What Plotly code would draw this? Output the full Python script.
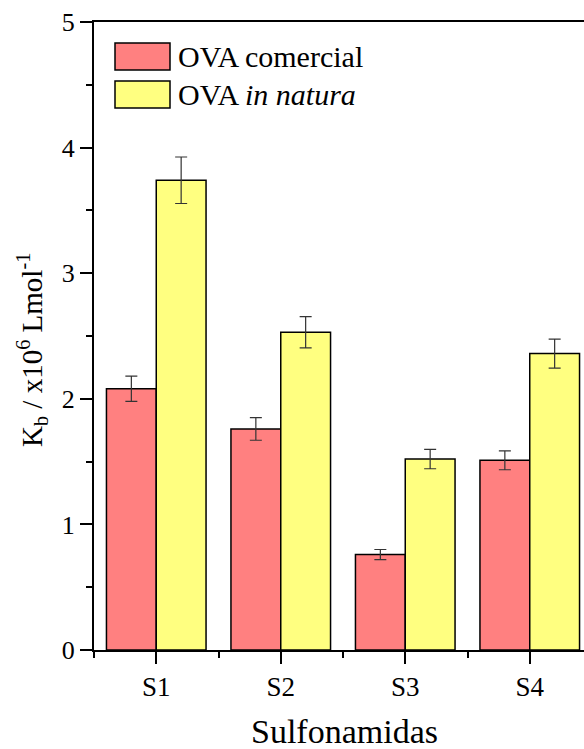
import plotly.graph_objects as go

# Binding constants (Kb, x10^6 L/mol) for each sulfonamide
categories = ["S1", "S2", "S3", "S4"]
x_pos = [1, 2, 3, 4]
kb_comercial = [2.08, 1.76, 0.76, 1.51]
err_comercial = [0.10, 0.09, 0.04, 0.075]
kb_natura = [3.74, 2.53, 1.52, 2.36]
err_natura = [0.185, 0.125, 0.077, 0.115]

FONT = "Liberation Serif"
RED = "#FF8080"
YELLOW = "#FFFF80"

fig = go.Figure()
fig.add_trace(go.Bar(
    x=x_pos, y=kb_comercial, name="OVA comercial",
    marker=dict(color=RED, line=dict(color="black", width=1.5)),
    error_y=dict(type="data", array=err_comercial, visible=True,
                 color="#333333", thickness=1.2, width=6),
))
fig.add_trace(go.Bar(
    x=x_pos, y=kb_natura, name="OVA <i>in natura</i>",
    marker=dict(color=YELLOW, line=dict(color="black", width=1.5)),
    error_y=dict(type="data", array=err_natura, visible=True,
                 color="#333333", thickness=1.2, width=6),
))

W, H = 584, 749
L, R, T, B = 94, 0, 22, 99
pw, ph = W - L - R, H - T - B


def px_x(x):
    return (x - L) / pw


def px_y(y):
    return 1 - (y - T) / ph


# Legend drawn as boxes + labels in the upper-left corner
legend_items = [("OVA comercial", RED), ("OVA <i>in natura</i>", YELLOW)]
for i, (label, color) in enumerate(legend_items):
    y0 = 43 + i * 38
    fig.add_shape(type="rect", xref="paper", yref="paper",
                  x0=px_x(115), x1=px_x(170), y0=px_y(y0 + 27), y1=px_y(y0),
                  fillcolor=color, line=dict(color="black", width=1.5))
    fig.add_annotation(xref="paper", yref="paper",
                       x=px_x(176), y=px_y(y0 + 13.5),
                       text=label, showarrow=False, xanchor="left", yanchor="middle",
                       font=dict(family=FONT, size=30, color="black"))

# Axis titles
fig.add_annotation(xref="paper", yref="paper", x=px_x(32), y=px_y(350),
                   text="K<sub>b</sub> / x10<sup>6</sup> Lmol<sup>-1</sup>",
                   textangle=-90, showarrow=False, xanchor="center", yanchor="middle",
                   font=dict(family=FONT, size=29, color="black"))
fig.add_annotation(xref="paper", yref="paper", x=px_x(344), y=px_y(731),
                   text="Sulfonamidas", showarrow=False,
                   xanchor="center", yanchor="middle",
                   font=dict(family=FONT, size=34, color="black"))

fig.update_layout(
    width=W, height=H,
    margin=dict(l=L, r=R, t=T, b=B),
    plot_bgcolor="white", paper_bgcolor="white",
    barmode="group", bargap=0.2, bargroupgap=0,
    showlegend=False,
    font=dict(family=FONT, color="black"),
    xaxis=dict(
        range=[0.5, 0.5 + pw / 124.5],
        tickmode="array", tickvals=x_pos, ticktext=categories,
        ticks="outside", ticklen=12, tickwidth=2, tickcolor="black",
        minor=dict(tickmode="array", tickvals=[0.5, 1.5, 2.5, 3.5],
                   ticks="outside", ticklen=6, tickwidth=2, tickcolor="black"),
        showline=True, linecolor="black", linewidth=2, mirror=True,
        showgrid=False, zeroline=False,
        tickfont=dict(family=FONT, size=27),
    ),
    yaxis=dict(
        range=[0, 5],
        tickmode="array", tickvals=[0, 1, 2, 3, 4, 5],
        ticks="outside", ticklen=12, tickwidth=2, tickcolor="black",
        minor=dict(tickmode="array", tickvals=[0.5, 1.5, 2.5, 3.5, 4.5],
                   ticks="outside", ticklen=6, tickwidth=2, tickcolor="black"),
        showline=True, linecolor="black", linewidth=2, mirror=False,
        showgrid=False, zeroline=False,
        tickfont=dict(family=FONT, size=26),
    ),
)

fig.write_html("out.html")
